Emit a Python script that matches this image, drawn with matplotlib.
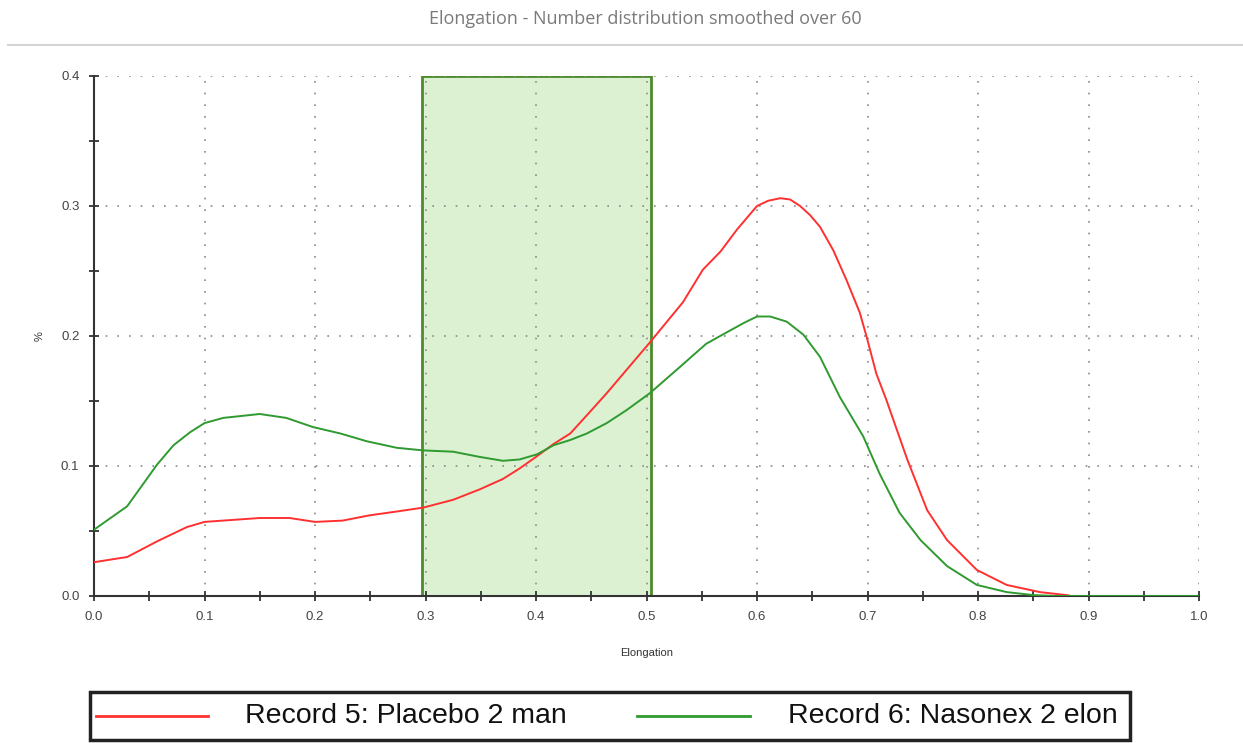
import matplotlib
matplotlib.use("Agg")
import matplotlib.pyplot as plt
from matplotlib.patches import Rectangle
from matplotlib.lines import Line2D
from matplotlib.ticker import MultipleLocator

title = "Elongation - Number distribution smoothed over 60"
xlabel = "Elongation"
ylabel = "%"
series_names = ["Record 5: Placebo 2 man", "Record 6: Nasonex 2 elon"]
band = [0.297, 0.504]

placebo_x = [0.0, 0.03, 0.057, 0.084, 0.10, 0.15, 0.177, 0.20, 0.225, 0.249, 0.274, 0.298,
             0.325, 0.349, 0.37, 0.385, 0.40, 0.416, 0.431, 0.446, 0.464, 0.482, 0.503,
             0.533, 0.551, 0.567, 0.582, 0.600, 0.610, 0.621, 0.630, 0.639, 0.648, 0.657,
             0.669, 0.681, 0.693, 0.699, 0.708, 0.717, 0.736, 0.754, 0.772, 0.799, 0.826,
             0.856, 0.882]
placebo_y = [0.026, 0.030, 0.042, 0.053, 0.057, 0.060, 0.060, 0.057, 0.058, 0.062, 0.065, 0.068,
             0.074, 0.082, 0.090, 0.098, 0.107, 0.117, 0.125, 0.139, 0.156, 0.174, 0.195,
             0.226, 0.251, 0.265, 0.282, 0.300, 0.304, 0.306, 0.305, 0.300, 0.293, 0.284,
             0.266, 0.243, 0.218, 0.200, 0.171, 0.151, 0.105, 0.066, 0.043, 0.020, 0.0085,
             0.003, 0.0005]

nasonex_x = [0.0, 0.03, 0.057, 0.072, 0.087, 0.10, 0.117, 0.15, 0.174, 0.198, 0.223, 0.247,
             0.274, 0.298, 0.325, 0.349, 0.37, 0.385, 0.401, 0.416, 0.431, 0.446, 0.464,
             0.482, 0.503, 0.530, 0.554, 0.573, 0.588, 0.600, 0.612, 0.627, 0.642, 0.657,
             0.675, 0.696, 0.711, 0.729, 0.748, 0.772, 0.799, 0.826, 0.85, 0.87, 1.0]
nasonex_y = [0.051, 0.069, 0.101, 0.116, 0.126, 0.133, 0.137, 0.140, 0.137, 0.130, 0.125, 0.119,
             0.114, 0.112, 0.111, 0.107, 0.104, 0.105, 0.109, 0.116, 0.120, 0.125, 0.133,
             0.143, 0.156, 0.176, 0.194, 0.203, 0.210, 0.215, 0.215, 0.211, 0.201, 0.184,
             0.153, 0.123, 0.094, 0.064, 0.043, 0.023, 0.0085, 0.003, 0.0007, 0.0, 0.0]

RED = "#ff3030"
GREEN = "#2f9a2f"

plt.rcParams['font.family'] = ['Liberation Sans', 'DejaVu Sans']

fig = plt.figure(figsize=(12.43, 7.43), dpi=100)
ax = fig.add_axes([94 / 1243, 1 - 596 / 743, 1105 / 1243, 520 / 743])

ax.axvspan(band[0], band[1], ymin=0, ymax=1, facecolor="#dcf1d2", edgecolor="#4d8a2c",
           linewidth=2, zorder=0.2)

ax.plot(placebo_x, placebo_y, color=RED, lw=1.4, zorder=3)
ax.plot(nasonex_x, nasonex_y, color=GREEN, lw=1.4, zorder=3)

ax.set_xlim(0, 1.0)
ax.set_ylim(0, 0.4)
ax.xaxis.set_major_locator(MultipleLocator(0.1))
ax.xaxis.set_minor_locator(MultipleLocator(0.05))
ax.yaxis.set_major_locator(MultipleLocator(0.1))
ax.yaxis.set_minor_locator(MultipleLocator(0.05))
ax.xaxis.set_major_formatter(matplotlib.ticker.FormatStrFormatter('%.1f'))
ax.yaxis.set_major_formatter(matplotlib.ticker.FormatStrFormatter('%.1f'))

ax.set_axisbelow(True)
ax.grid(True, which='major', color='#8a8a8a', linestyle=(0, (1, 6)), linewidth=1.2)

for s in ['top', 'right']:
    ax.spines[s].set_visible(False)
for s in ['left', 'bottom']:
    ax.spines[s].set_color('#333333')
    ax.spines[s].set_linewidth(1.5)

ax.tick_params(which='major', direction='inout', length=7, width=1.3, color='#333333',
               labelsize=9.5, labelcolor='#444444', pad=7)
ax.tick_params(which='minor', direction='inout', length=7, width=1.3, color='#333333')

ax.set_xlabel(xlabel, fontsize=8, color='#333333', labelpad=18)
ax.set_ylabel(ylabel, fontsize=8, color='#333333', labelpad=12)

fig.text(645 / 1243, 1 - 19 / 743, title, ha='center', va='center', fontsize=13,
         color='#7a7a7a', family=['Open Sans', 'DejaVu Sans'])
fig.add_artist(Line2D([8 / 1243, 1.0], [1 - 45 / 743] * 2, color='#d4d4d4', lw=1.5))

# legend box
lx0, lx1, ly0, ly1 = 90, 1130, 692, 740
box = Rectangle((lx0 / 1243, 1 - ly1 / 743), (lx1 - lx0) / 1243, (ly1 - ly0) / 743,
                transform=fig.transFigure, facecolor='white', edgecolor='#222222', lw=2.5)
fig.add_artist(box)
ymid = 1 - 716 / 743
fig.add_artist(Line2D([96 / 1243, 208 / 1243], [ymid, ymid], color=RED, lw=2))
fig.add_artist(Line2D([637 / 1243, 750 / 1243], [ymid, ymid], color=GREEN, lw=2))
fig.text(245 / 1243, ymid, series_names[0], ha='left', va='center', fontsize=20.5, color='#111111')
t2 = fig.text(788 / 1243, ymid, series_names[1], ha='left', va='center', fontsize=20.5,
              color='#111111')
t2.set_clip_path(box)

fig.savefig("out.png", dpi=100)
